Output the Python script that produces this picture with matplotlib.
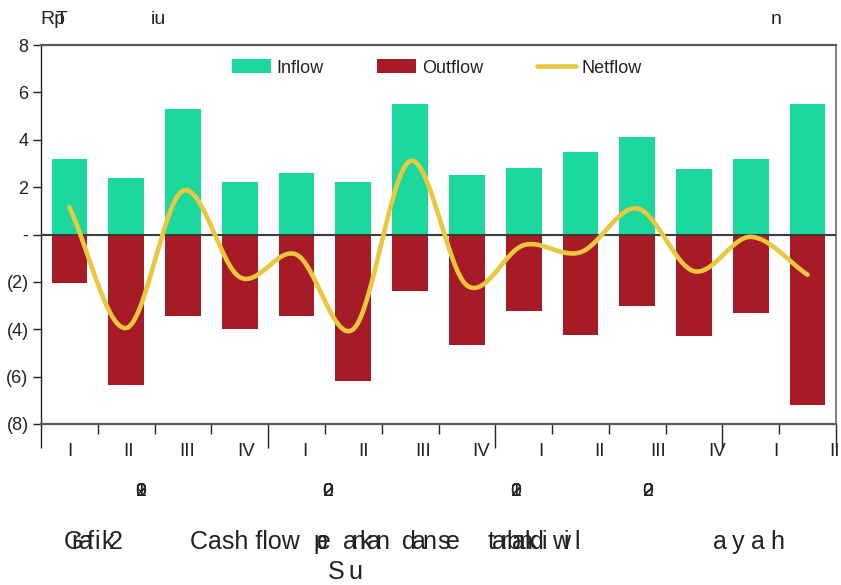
import numpy as np
import matplotlib
matplotlib.use("Agg")
import matplotlib.pyplot as plt
from matplotlib.patches import Patch
from matplotlib.lines import Line2D
from matplotlib import transforms

# ---- data (Rp triliun) ----
quarters = ["I", "II", "III", "IV", "I", "II", "III", "IV", "I", "II", "III", "IV", "I", "II"]
years = ["2019", "2020", "2021", "2022"]
inflow = [3.2, 2.4, 5.3, 2.2, 2.6, 2.2, 5.5, 2.5, 2.8, 3.5, 4.1, 2.75, 3.2, 5.5]
outflow = [-2.05, -6.35, -3.45, -4.0, -3.45, -6.2, -2.4, -4.65, -3.25, -4.25, -3.0, -4.3, -3.3, -7.2]
netflow = np.add(inflow, outflow)
yticks = [8, 6, 4, 2, 0, -2, -4, -6, -8]
yticklabels = ["8", "6", "4", "2", "-", "(2)", "(4)", "(6)", "(8)"]

W, H = 841, 585
C_IN = "#1dd89c"
C_OUT = "#a61b25"
C_NET = "#e8c83e"
FONT = ["Liberation Sans", "DejaVu Sans"]
TXT = "#222222"

plt.rcParams["font.family"] = FONT


def catmull_rom(x, y, n=30):
    """Smooth curve through the points (like a 'smoothed line' chart)."""
    x = np.asarray(x, float)
    y = np.asarray(y, float)
    px = np.concatenate([[2 * x[0] - x[1]], x, [2 * x[-1] - x[-2]]])
    py = np.concatenate([[2 * y[0] - y[1]], y, [2 * y[-1] - y[-2]]])
    xs, ys = [], []
    t = np.linspace(0, 1, n, endpoint=False)
    for i in range(1, len(px) - 2):
        for arr, out in ((px, xs), (py, ys)):
            p0, p1, p2, p3 = arr[i - 1], arr[i], arr[i + 1], arr[i + 2]
            out.extend(0.5 * ((2 * p1) + (-p0 + p2) * t
                              + (2 * p0 - 5 * p1 + 4 * p2 - p3) * t ** 2
                              + (-p0 + 3 * p1 - 3 * p2 + p3) * t ** 3))
    xs.append(x[-1])
    ys.append(y[-1])
    return np.array(xs), np.array(ys)


fig = plt.figure(figsize=(W / 100, H / 100), dpi=100)
ax = fig.add_axes([41 / W, 1 - 424 / H, (836 - 41) / W, (424 - 45) / H])

x = np.arange(len(quarters))
ax.bar(x, inflow, width=0.63, color=C_IN, zorder=2)
ax.bar(x, outflow, width=0.63, color=C_OUT, zorder=2)
ax.axhline(0, color="#3c3c3c", lw=1.5, zorder=3)
sx, sy = catmull_rom(x, netflow)
ax.plot(sx, sy, color=C_NET, lw=3.3, solid_capstyle="round", zorder=4)

ax.set_xlim(-0.5, len(quarters) - 0.5)
ax.set_ylim(-8, 8)
ax.set_yticks(yticks, yticklabels)
ax.tick_params(axis="y", length=6, width=1, color="#222222", labelsize=13,
               labelcolor=TXT, pad=3)

# quarter boundaries as ticks; year boundaries longer
bounds = np.arange(len(quarters) + 1) - 0.5
year_bounds = [-0.5, 3.5, 7.5, 11.5, 13.5]
ax.set_xticks(year_bounds)
ax.set_xticks([b for b in bounds if b not in year_bounds], minor=True)
ax.tick_params(axis="x", which="major", length=17, width=1, color="#222222",
               labelbottom=False)
ax.tick_params(axis="x", which="minor", length=7, width=1, color="#222222")

for side in ("top", "bottom"):
    ax.spines[side].set_color("#5a5a5a")
    ax.spines[side].set_linewidth(1.6)
ax.spines["right"].set_color("#6a6a6a")
ax.spines["right"].set_linewidth(1.2)
ax.spines["left"].set_color("#222222")
ax.spines["left"].set_linewidth(1.0)

# quarter labels under the axis
btrans = transforms.blended_transform_factory(ax.transData, fig.transFigure)
for i, q in enumerate(quarters):
    ax.text(i * 1.037, 1 - 452 / H, q, transform=btrans, ha="center", va="center",
            fontsize=13.5, color=TXT)

# legend
handles = [Patch(facecolor=C_IN, edgecolor="none"),
           Patch(facecolor=C_OUT, edgecolor="none"),
           Line2D([], [], color=C_NET, lw=3.3, solid_capstyle="round")]
ax.legend(handles, ["Inflow", "Outflow", "Netflow"], loc="center",
          bbox_to_anchor=(0.498, 1 - (68 - 45) / (424 - 45)), ncol=3,
          frameon=False, fontsize=13, handlelength=2.17, handleheight=0.8,
          handletextpad=0.33, columnspacing=2.95, labelcolor=TXT,
          borderpad=0.2)


def put(s, px, py, size, pitch=None, ha="left"):
    """Place text at a pixel position; optional fixed pitch per character."""
    if pitch is None:
        fig.text(px / W, 1 - py / H, s, fontsize=size, color=TXT, ha=ha, va="center")
    else:
        for i, c in enumerate(s):
            fig.text((px + i * pitch) / W, 1 - py / H, c, fontsize=size,
                     color=TXT, ha=ha, va="center")


# unit label pieces along the top
put("Rp", 40, 20, 14)
put("T", 56, 20, 14)
put("iu", 151, 20, 14)
put("n", 771, 20, 14)

# year labels (digits set on one spot)
year_px = [141, 328, 516, 648]
for yr, px in zip(years, year_px):
    put(yr, px, 492, 14, pitch=0.0, ha="center")

# caption line
caption_parts = [("Grafik2", 64, 7.5), ("Cash flow", 190, None), ("pe", 313, 4),
                 ("ankan", 343, 8), ("dan", 402, 10), ("se", 437, 9),
                 ("ta", 488, 4), ("rbank", 500, 6), ("diwil", 530, 11),
                 ("ayah", 713, 19)]
for s, px, pitch in caption_parts:
    put(s, px, 542, 18, pitch=pitch)
put("Su", 328, 572, 18, pitch=20)

fig.savefig("out.png", dpi=100)
